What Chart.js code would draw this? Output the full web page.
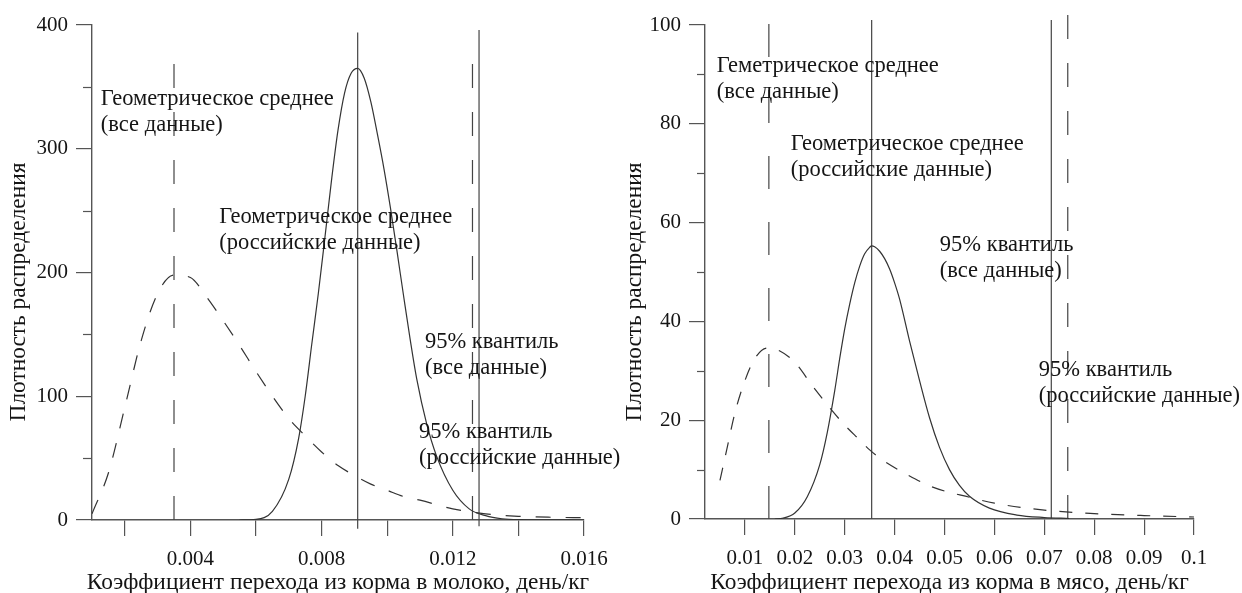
<!DOCTYPE html>
<html>
<head>
<meta charset="utf-8">
<script src="https://cdn.jsdelivr.net/npm/chart.js@4.4.1/dist/chart.umd.min.js"></script>
<style>
  html, body { margin: 0; padding: 0; background: #fff; }
  #wrap { position: relative; width: 1242px; height: 593px; }
  .box { position: absolute; top: 0; height: 593px; }
  #milkBox { left: 0; width: 620px; }
  #meatBox { left: 620px; width: 622px; }
</style>
</head>
<body>
<div id="wrap">
  <div class="box" id="milkBox"><canvas id="milkChart"></canvas></div>
  <div class="box" id="meatBox"><canvas id="meatChart"></canvas></div>
</div>
<script>
// ---- milk (left) ----
const milkAllX = [0.001, 0.0015, 0.002, 0.0025, 0.003, 0.0035, 0.004, 0.0045, 0.005, 0.0055, 0.006, 0.0065, 0.007, 0.0075, 0.008, 0.0085, 0.009, 0.0095, 0.010, 0.0105, 0.011, 0.012, 0.013, 0.014, 0.015, 0.016];
const milkAllY = [5, 38, 91, 145, 183, 198, 196, 180, 161, 141, 120, 100, 82, 68, 55, 44, 36, 29, 24, 19, 16, 9, 5, 3, 2.2, 1.9];
const milkRusX = [0.0055, 0.006, 0.0065, 0.007, 0.0073, 0.0075, 0.0077, 0.0079, 0.0081, 0.0083, 0.0085, 0.0087, 0.0089, 0.0091, 0.0093, 0.0095, 0.0097, 0.0099, 0.0101, 0.0103, 0.0105, 0.0107, 0.0109, 0.0112, 0.0115, 0.012, 0.0125, 0.013, 0.0135, 0.014, 0.016];
const milkRusY = [0, 0.5, 7, 33, 66, 100, 142, 183, 228, 274, 315, 345, 361, 365, 357, 338, 312, 284, 252, 217, 181, 146, 114, 78, 52, 24, 9, 3.5, 1, 0.3, 0];
// geometric means and 95% quantiles (all data / russian data)
const milkMeanAll = 0.0035, milkMeanRus = 0.0091;
const milkQ95All = 0.0128, milkQ95Rus = 0.0126;
const milkXTicks = [0.002, 0.004, 0.006, 0.008, 0.010, 0.012, 0.014, 0.016];
const milkYTicks = [0, 100, 200, 300, 400];
const milkYMinor = [50, 150, 250, 350];

// ---- meat (right) ----
const meatAllX = [0.005, 0.0065, 0.008, 0.01, 0.012, 0.0145, 0.017, 0.02, 0.0235, 0.027, 0.03, 0.033, 0.035, 0.0375, 0.0425, 0.0475, 0.055, 0.06, 0.07, 0.08, 0.09, 0.1];
const meatAllY = [7.8, 14.7, 21.5, 28, 32.5, 34.6, 34, 31.7, 27, 22.5, 19, 16, 14, 12, 9, 6.5, 4.4, 3.2, 1.8, 1.1, 0.7, 0.4];
const meatRusX = [0.016, 0.0175, 0.02, 0.0225, 0.025, 0.0265, 0.028, 0.029, 0.03, 0.031, 0.032, 0.033, 0.034, 0.035, 0.0354, 0.036, 0.037, 0.038, 0.039, 0.04, 0.041, 0.043, 0.045, 0.047, 0.049, 0.051, 0.053, 0.055, 0.059, 0.0645, 0.07, 0.075];
const meatRusY = [0, 0.15, 1.2, 4.5, 11, 17.5, 26, 32.5, 38.5, 43.5, 47.8, 51.2, 53.7, 55, 55.3, 55.1, 54.2, 52.7, 50.6, 47.8, 44.5, 36, 28, 20.5, 14.5, 10, 6.8, 4.6, 2.2, 0.8, 0.3, 0.1];
const meatMeanAll = 0.0148, meatMeanRus = 0.0354;
const meatQ95All = 0.0714, meatQ95Rus = 0.0747;
const meatXTicks = [0.01, 0.02, 0.03, 0.04, 0.05, 0.06, 0.07, 0.08, 0.09, 0.1];
const meatYTicks = [0, 20, 40, 60, 80, 100];
const meatYMinor = [10, 30, 50, 70, 90];

const FONT = '"Liberation Serif", "DejaVu Serif", serif';
const TEXT = "#151515";
const CURVE = "#333";
const AXIS = "#555";

const pts = (xs, ys) => xs.map((x, i) => ({ x: x, y: ys[i] }));

// vertical marker as a 2-point line
const marker = (x, y0, y1, dash) => ({
  data: [{ x: x, y: y0 }, { x: x, y: y1 }],
  borderColor: "#444",
  borderWidth: 1.2,
  borderDash: dash,
  pointRadius: 0,
  clip: false,
});

// minor ticks, in-plot notes and axis titles
const notesPlugin = {
  id: "notes",
  afterDraw(chart, args, opts) {
    const { ctx, chartArea } = chart;
    const sx = chart.scales.x, sy = chart.scales.y;
    ctx.save();
    ctx.strokeStyle = AXIS;
    ctx.lineWidth = 1.2;
    opts.minor.forEach((v) => {
      let py = Math.round(sy.getPixelForValue(v)) + 0.5;
      ctx.beginPath();
      ctx.moveTo(chartArea.left - opts.minorLen, py);
      ctx.lineTo(chartArea.left, py);
      ctx.stroke();
    });

    ctx.fillStyle = TEXT;
    ctx.font = "22.5px " + FONT;
    ctx.textAlign = "left";
    ctx.textBaseline = "middle";
    opts.notes.forEach((n) => {
      let px = sx.getPixelForValue(n.x);
      let py = sy.getPixelForValue(n.y);
      n.lines.forEach((t, i) => ctx.fillText(t, px, py + i * 26));
    });

    ctx.font = "23.4px " + FONT;
    ctx.textAlign = "center";
    ctx.fillText(opts.xTitle, (chartArea.left + chartArea.right) / 2, 583);
    ctx.translate(opts.yTitleX, 292);
    ctx.rotate(-Math.PI / 2);
    ctx.fillText(opts.yTitle, 0, 0);
    ctx.restore();
  },
};

const makeChart = (canvas, cfg) => {
  return new Chart(canvas, {
    type: "line",
    data: { datasets: cfg.datasets },
    plugins: [notesPlugin],
    options: {
      responsive: true,
      maintainAspectRatio: false,
      animation: false,
      layout: { padding: { top: 25, right: cfg.padRight, left: 0, bottom: 0 } },
      plugins: {
        legend: { display: false },
        tooltip: { enabled: false },
        notes: cfg.notes,
      },
      scales: {
        x: {
          type: "linear",
          min: cfg.xMin,
          max: cfg.xMax,
          afterBuildTicks: (s) => {
            s.ticks = cfg.xTicks.map((v) => ({ value: v }));
          },
          afterFit: (s) => {
            s.height = cfg.xHeight;
          },
          ticks: {
            autoSkip: false,
            maxRotation: 0,
            padding: 11,
            color: TEXT,
            font: { family: FONT, size: 21 },
            callback: cfg.xLabel,
          },
          grid: { display: true, drawOnChartArea: false, drawTicks: true, tickLength: 16, color: AXIS, lineWidth: 1.2 },
          border: { display: true, color: AXIS, width: 1.4 },
        },
        y: {
          min: cfg.yMin,
          max: cfg.yMax,
          afterBuildTicks: (s) => {
            s.ticks = cfg.yTicks.map((v) => ({ value: v }));
          },
          afterFit: (s) => {
            s.width = cfg.yWidth;
          },
          ticks: {
            padding: 8,
            color: TEXT,
            font: { family: FONT, size: 21 },
          },
          grid: { display: true, drawOnChartArea: false, drawTicks: true, tickLength: 16, color: AXIS, lineWidth: 1.2 },
          border: { display: true, color: AXIS, width: 1.4 },
        },
      },
    },
  });
};

makeChart(document.querySelector("#milkChart"), {
  xMin: 0.001, xMax: 0.016, yMin: 0, yMax: 400,
  xTicks: milkXTicks, yTicks: milkYTicks,
  yWidth: 92, xHeight: 73, padRight: 36,
  xLabel: (v) => (Math.round(v * 1000) % 4 === 0 ? v.toFixed(3) : ""),
  datasets: [
    { data: pts(milkAllX, milkAllY), borderColor: CURVE, borderWidth: 1.2, borderDash: [15, 15], pointRadius: 0, cubicInterpolationMode: "monotone" },
    { data: pts(milkRusX, milkRusY), borderColor: CURVE, borderWidth: 1.2, pointRadius: 0, cubicInterpolationMode: "monotone" },
    marker(milkMeanAll, 0, 384, [24, 24]),
    marker(milkMeanRus, -7, 394, []),
    marker(milkQ95Rus, 0, 370, [24, 24]),
    marker(milkQ95All, -5, 396, []),
  ],
  notes: {
    minor: milkYMinor, minorLen: 9,
    yTitle: "Плотность распределения", yTitleX: 19,
    xTitle: "Коэффициент перехода из корма в молоко, день/кг",
    notes: [
      { x: 0.00127, y: 340, lines: ["Геометрическое среднее", "(все данные)"] },
      { x: 0.00488, y: 245, lines: ["Геометрическое среднее", "(российские данные)"] },
      { x: 0.01115, y: 144, lines: ["95% квантиль", "(все данные)"] },
      { x: 0.01097, y: 71, lines: ["95% квантиль", "(российские данные)"] },
    ],
  },
});

makeChart(document.querySelector("#meatChart"), {
  xMin: 0.002, xMax: 0.1, yMin: 0, yMax: 100,
  xTicks: meatXTicks, yTicks: meatYTicks,
  yWidth: 85, xHeight: 74, padRight: 48,
  xLabel: (v) => String(parseFloat(v.toFixed(2))),
  datasets: [
    { data: pts(meatAllX, meatAllY), borderColor: CURVE, borderWidth: 1.2, borderDash: [13, 13], pointRadius: 0, cubicInterpolationMode: "monotone" },
    { data: pts(meatRusX, meatRusY), borderColor: CURVE, borderWidth: 1.2, pointRadius: 0, cubicInterpolationMode: "monotone" },
    marker(meatMeanAll, 0, 100.3, [33, 33]),
    marker(meatMeanRus, 0, 101, []),
    marker(meatQ95All, 0, 101, []),
    marker(meatQ95Rus, 0, 102, [24, 24]),
  ],
  notes: {
    minor: meatYMinor, minorLen: 8,
    yTitle: "Плотность распределения", yTitleX: 15,
    xTitle: "Коэффициент перехода из корма в мясо, день/кг",
    notes: [
      { x: 0.00436, y: 91.7, lines: ["Геметрическое среднее", "(все данные)"] },
      { x: 0.01918, y: 75.8, lines: ["Геометрическое среднее", "(российские данные)"] },
      { x: 0.04907, y: 55.5, lines: ["95% квантиль", "(все данные)"] },
      { x: 0.06889, y: 30.2, lines: ["95% квантиль", "(российские данные)"] },
    ],
  },
});
</script>
</body>
</html>
